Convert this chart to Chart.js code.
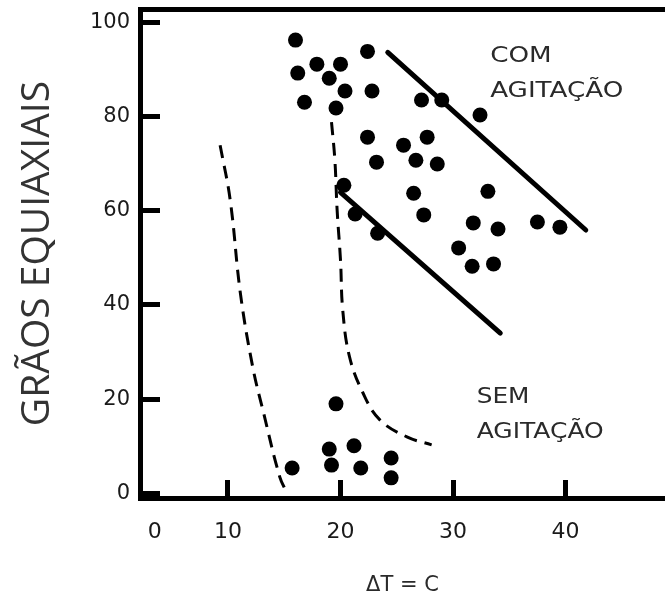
<!DOCTYPE html>
<html>
<head>
<meta charset="utf-8">
<script src="https://cdn.jsdelivr.net/npm/chart.js@4.4.1/dist/chart.umd.min.js"></script>
<style>
  html, body { margin: 0; padding: 0; background: #fff; }
  #chart { display: block; }
</style>
</head>
<body>
<canvas id="chart" width="665" height="599"></canvas>
<script>
// values (x = delta T, y = graos equiaxiais)
const comX = [16.0, 16.2, 17.9, 16.8, 20.0, 19.0, 20.4, 19.6, 22.4, 22.8, 22.4, 25.6, 27.7, 23.2, 26.7, 28.6,
              27.2, 29.0, 32.4, 20.3, 21.3, 23.3, 26.5, 27.4, 33.1, 31.8, 34.0, 37.5, 39.5, 30.5, 31.7, 33.6];
const comY = [96.2, 89.2, 91.1, 83.0, 91.1, 88.1, 85.4, 81.8, 93.8, 85.4, 75.6, 73.9, 75.6, 70.3, 70.7, 69.9,
              83.5, 83.5, 80.3, 65.4, 59.3, 55.2, 63.7, 59.1, 64.1, 57.4, 56.1, 57.6, 56.5, 52.1, 48.2, 48.7];
const semX = [15.7, 19.6, 19.0, 19.2, 21.2, 21.8, 24.5, 24.5];
const semY = [5.4, 19.0, 9.4, 6.0, 10.1, 5.4, 7.5, 3.3];

// dashed curves
const leftCurveX = [9.3, 10.2, 11.1, 12.2, 13.1, 14.6, 15.2];
const leftCurveY = [73.9, 62.2, 42.5, 26.8, 17.7, 3.5, 0.3];
const midCurveX = [19.2, 19.5, 19.7, 20.0, 20.2, 20.8, 22.0, 23.5, 25.9, 28.1];
const midCurveY = [78.8, 70.7, 60.1, 49.5, 38.9, 29.0, 21.3, 15.6, 12.0, 10.3];

// solid trend lines
const upperLineX = [24.2, 41.8];
const upperLineY = [93.6, 55.9];
const lowerLineX = [20.0, 34.2];
const lowerLineY = [63.9, 34.0];

const xTickValues = [3.5, 10, 20, 30, 40];
const xTickLabels = ['0', '10', '20', '30', '40'];
const yTickValues = [0, 20, 40, 60, 80, 100];

function pts(xs, ys) {
    return xs.map((x, i) => ({ x: x, y: ys[i] }));
}

function noPad(scale) {
    scale.paddingTop = 0;
    scale.paddingBottom = 0;
    scale.paddingLeft = 0;
    scale.paddingRight = 0;
}

const textLabels = {
    id: 'textLabels',
    afterDatasetsDraw(chart) {
        const ctx = chart.ctx;
        const sx = chart.scales.x;
        const sy = chart.scales.y;
        const items = [
            ['COM', 33.3, 91.5, 22, 1.19],
            ['AGITAÇÃO', 33.3, 84.1, 22, 1.19],
            ['SEM', 32.1, 19.1, 21, 1.18],
            ['AGITAÇÃO', 32.1, 11.75, 21, 1.19]
        ];
        ctx.save();
        ctx.fillStyle = '#2a2a2a';
        ctx.textAlign = 'left';
        ctx.textBaseline = 'alphabetic';
        items.forEach(([t, vx, vy, size, stretch]) => {
            ctx.save();
            ctx.translate(sx.getPixelForValue(vx), sy.getPixelForValue(vy));
            ctx.scale(stretch, 1);
            ctx.font = size + 'px "DejaVu Sans"';
            ctx.fillText(t, 0, 0);
            ctx.restore();
        });
        ctx.restore();
    }
};

const dotStyle = {
    type: 'scatter',
    pointRadius: 7.5,
    pointHoverRadius: 7.5,
    pointBackgroundColor: '#000',
    pointBorderWidth: 0,
    showLine: false
};

const ctx = document.getElementById('chart').getContext('2d');
new Chart(ctx, {
    type: 'scatter',
    data: {
        datasets: [
            Object.assign({ label: 'Com agitação', data: pts(comX, comY) }, dotStyle),
            Object.assign({ label: 'Sem agitação', data: pts(semX, semY) }, dotStyle),
            {
                type: 'line', label: 'curva 1', data: pts(leftCurveX, leftCurveY),
                borderColor: '#000', borderWidth: 3, borderDash: [13, 8],
                pointRadius: 0, tension: 0.4, fill: false
            },
            {
                type: 'line', label: 'curva 2', data: pts(midCurveX, midCurveY),
                borderColor: '#000', borderWidth: 3, borderDash: [13, 8],
                pointRadius: 0, tension: 0.4, fill: false
            },
            {
                type: 'line', label: 'reta 1', data: pts(upperLineX, upperLineY),
                borderColor: '#000', borderWidth: 5, borderCapStyle: 'round',
                pointRadius: 0, fill: false
            },
            {
                type: 'line', label: 'reta 2', data: pts(lowerLineX, lowerLineY),
                borderColor: '#000', borderWidth: 5, borderCapStyle: 'round',
                pointRadius: 0, fill: false
            }
        ]
    },
    options: {
        responsive: false,
        animation: false,
        layout: { padding: 0, autoPadding: false },
        plugins: {
            legend: { display: false },
            tooltip: { enabled: false }
        },
        scales: {
            x: {
                type: 'linear',
                position: 'bottom',
                min: 2.18,
                max: 48.84,
                afterBuildTicks: (scale) => { scale.ticks = xTickValues.map(v => ({ value: v })); },
                afterFit: (scale) => { scale.height = 101; noPad(scale); },
                ticks: {
                    autoSkip: false,
                    maxRotation: 0,
                    padding: 39,
                    color: '#1a1a1a',
                    font: { family: 'DejaVu Sans', size: 22 },
                    callback: (v, i) => xTickLabels[i]
                },
                grid: {
                    drawOnChartArea: false,
                    drawTicks: true,
                    tickLength: -18,
                    tickWidth: 5,
                    tickColor: (c) => c.index === 0 ? 'rgba(0,0,0,0)' : '#000'
                },
                border: { display: true, color: '#000', width: 5 },
                title: {
                    display: true,
                    text: 'ΔT = C',
                    color: '#2a2a2a',
                    font: { family: 'DejaVu Sans', size: 21 },
                    padding: { top: 0, bottom: 1 }
                }
            },
            top: {
                type: 'linear',
                position: 'top',
                min: 2.18,
                max: 48.84,
                afterFit: (scale) => { scale.height = 9; noPad(scale); },
                ticks: { display: false },
                grid: { drawOnChartArea: false, drawTicks: false },
                border: { display: true, color: '#000', width: 5 }
            },
            y: {
                type: 'linear',
                position: 'left',
                min: -0.98,
                max: 102.8,
                afterBuildTicks: (scale) => { scale.ticks = yTickValues.map(v => ({ value: v })); },
                afterFit: (scale) => { scale.width = 140; noPad(scale); },
                ticks: {
                    padding: 30,
                    color: '#1a1a1a',
                    font: { family: 'DejaVu Sans', size: 21 }
                },
                grid: {
                    drawOnChartArea: false,
                    drawTicks: true,
                    tickLength: -20,
                    tickWidth: 5,
                    tickColor: '#000'
                },
                border: { display: true, color: '#000', width: 5 },
                title: {
                    display: true,
                    text: 'GRÃOS EQUIAXIAIS',
                    color: '#333',
                    font: { family: 'Open Sans', size: 39 },
                    padding: { top: 14, bottom: 0 }
                }
            }
        }
    },
    plugins: [textLabels]
});
</script>
</body>
</html>
